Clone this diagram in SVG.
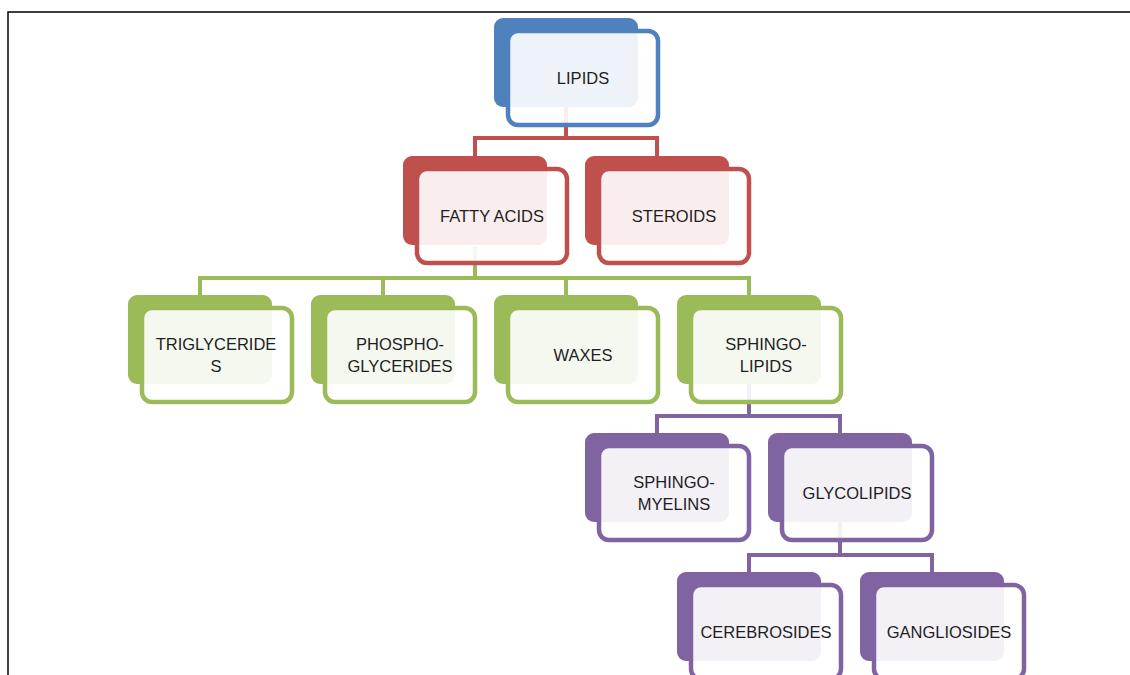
<svg xmlns="http://www.w3.org/2000/svg" width="1130" height="675" viewBox="0 0 1130 675">
<style>
.back{stroke:none}
.front{fill:#ffffff;fill-opacity:0.9;stroke-width:4.5}
.b .back{fill:#4F81BD}.b .front{stroke:#4F81BD}
.r .back{fill:#C0504D}.r .front{stroke:#C0504D}
.g .back{fill:#9BBB59}.g .front{stroke:#9BBB59}
.p .back{fill:#8064A2}.p .front{stroke:#8064A2}
text{font-family:"Liberation Sans",Arial,sans-serif;font-size:16.5px;fill:#1e1e1e;text-anchor:middle}
.conn path{fill:none;stroke-width:4}
</style>
<rect x="0" y="0" width="1130" height="675" fill="#ffffff"/>
<path d="M8,675 V12 H1130" fill="none" stroke="#000000" stroke-width="1.5"/>
<g id="connectors" class="conn">
<path d="M566,107 V138 M475,156 V138 H657 V156" stroke="#C0504D"/>
<path d="M475,246 V278 M200,295 V278 H749 V295 M383,278 V295 M566,278 V295" stroke="#9BBB59"/>
<path d="M749,384 V416 M657,433 V416 H840 V433" stroke="#8064A2"/>
<path d="M840,522 V555 M749,572 V555 H932 V572" stroke="#8064A2"/>
</g>
<g id="lipids" class="b">
<rect class="back" x="494" y="18" width="144" height="89" rx="9"/>
<rect class="front" x="508" y="31" width="150" height="94" rx="10"/>
<text x="583" y="84">LIPIDS</text>
</g>
<g id="fatty-acids" class="r">
<rect class="back" x="403" y="156" width="144" height="89" rx="9"/>
<rect class="front" x="417" y="169" width="150" height="94" rx="10"/>
<text x="492" y="222">FATTY ACIDS</text>
</g>
<g id="steroids" class="r">
<rect class="back" x="585" y="156" width="144" height="89" rx="9"/>
<rect class="front" x="599" y="169" width="150" height="94" rx="10"/>
<text x="674" y="222">STEROIDS</text>
</g>
<g id="triglycerides" class="g">
<rect class="back" x="128" y="295" width="144" height="89" rx="9"/>
<rect class="front" x="142" y="308" width="150" height="94" rx="10"/>
<text x="216" y="350">TRIGLYCERIDE</text>
<text x="216" y="372">S</text>
</g>
<g id="phosphoglycerides" class="g">
<rect class="back" x="311" y="295" width="144" height="89" rx="9"/>
<rect class="front" x="325" y="308" width="150" height="94" rx="10"/>
<text x="400" y="350">PHOSPHO-</text>
<text x="400" y="372">GLYCERIDES</text>
</g>
<g id="waxes" class="g">
<rect class="back" x="494" y="295" width="144" height="89" rx="9"/>
<rect class="front" x="508" y="308" width="150" height="94" rx="10"/>
<text x="583" y="361">WAXES</text>
</g>
<g id="sphingolipids" class="g">
<rect class="back" x="677" y="295" width="144" height="89" rx="9"/>
<rect class="front" x="691" y="308" width="150" height="94" rx="10"/>
<text x="766" y="350">SPHINGO-</text>
<text x="766" y="372">LIPIDS</text>
</g>
<g id="sphingomyelins" class="p">
<rect class="back" x="585" y="433" width="144" height="89" rx="9"/>
<rect class="front" x="599" y="446" width="150" height="94" rx="10"/>
<text x="674" y="488">SPHINGO-</text>
<text x="674" y="510">MYELINS</text>
</g>
<g id="glycolipids" class="p">
<rect class="back" x="768" y="433" width="144" height="89" rx="9"/>
<rect class="front" x="782" y="446" width="150" height="94" rx="10"/>
<text x="857" y="499">GLYCOLIPIDS</text>
</g>
<g id="cerebrosides" class="p">
<rect class="back" x="677" y="572" width="144" height="89" rx="9"/>
<rect class="front" x="691" y="585" width="150" height="94" rx="10"/>
<text x="766" y="638">CEREBROSIDES</text>
</g>
<g id="gangliosides" class="p">
<rect class="back" x="860" y="572" width="144" height="89" rx="9"/>
<rect class="front" x="874" y="585" width="150" height="94" rx="10"/>
<text x="949" y="638">GANGLIOSIDES</text>
</g>
</svg>
